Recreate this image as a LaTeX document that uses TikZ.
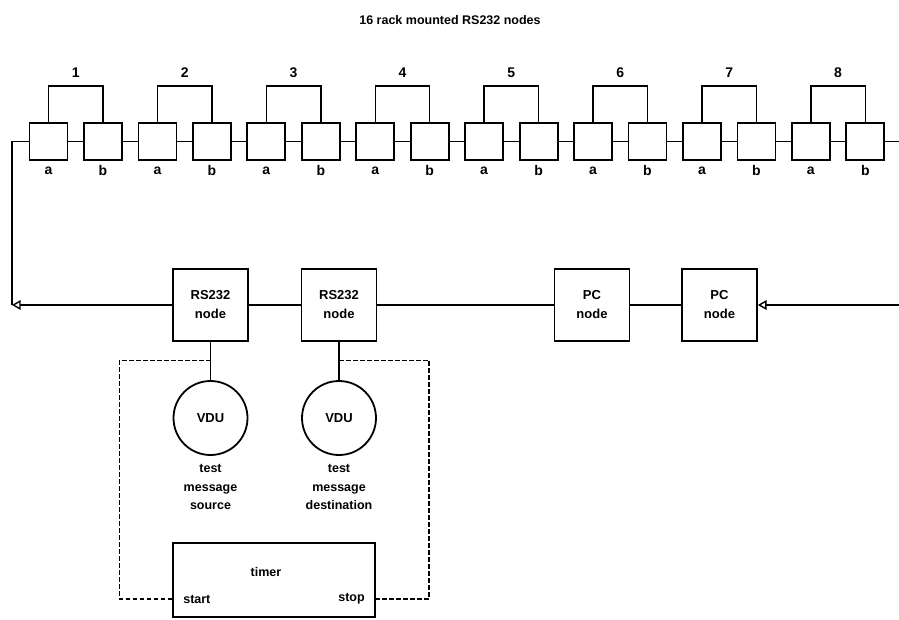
\documentclass[tikz,border=0pt]{standalone}
\usepackage{fontspec}
\setmainfont{Liberation Sans}
\usetikzlibrary{arrows,calc}
\tikzstyle{unit} = [rectangle, minimum width=38pt, minimum height=37pt, inner sep=0pt, draw=black, line width=1.8pt]
\tikzstyle{station} = [rectangle, minimum width=75pt, minimum height=72pt, align=center, draw=black, line width=1.8pt, font=\bfseries\fontsize{13}{19}\selectfont]
\tikzstyle{vdu} = [circle, minimum size=74pt, inner sep=0pt, draw=black, line width=1.8pt, font=\bfseries\fontsize{13}{14}\selectfont]
\tikzstyle{timerbox} = [rectangle, minimum width=202pt, minimum height=74pt, draw=black, line width=1.8pt]
\tikzstyle{note} = [align=center, inner sep=1pt, font=\bfseries\fontsize{12.5}{18.5}\selectfont]
\tikzstyle{big} = [note, font=\bfseries\fontsize{14}{16}\selectfont]
\tikzstyle{wire} = [line width=1.4pt]
\tikzstyle{arrow} = [wire,-open triangle 60]
\tikzstyle{ctrl} = [line width=1.1pt, dash pattern=on 4.5pt off 2.5pt]

\begin{document}
\begin{tikzpicture}[x=1pt, y=-1pt, node distance=128.5pt]
      \useasboundingbox (0,0) rectangle (899,619);
      \node (title) [note] at (450,20) {16 rack mounted RS232 nodes};

      % rack of a/b pairs
      \foreach \i in {1,...,8} {
        \pgfmathsetmacro{\xa}{48.5+108.9*(\i-1)}
        \node (a\i) [unit] at (\xa,141.5) {};
        \node (b\i) [unit] at (\xa+54.5,141.5) {};
        \node (la\i) [big] at (\xa,171) {a};
        \node (lb\i) [big] at (\xa+54.5,170) {b};
        \node (n\i) [big] at (\xa+27.25,73) {\i};
        \draw[wire] (a\i) -- (b\i);
        \draw[wire] (a\i.north) --++(0,-36) -| (b\i.north);
      }
      \foreach \i [evaluate=\i as \j using int(\i+1)] in {1,...,7}
        \draw[wire] (b\i) -- (a\j);

      \node (rs1) [station] at (210.5,305) {RS232\\node};
      \node (rs2) [station, right of = rs1] {RS232\\node};
      \node (pc1) [station] at (592,305) {PC\\node};
      \node (pc2) [station, right of = pc1, node distance=127.5pt] {PC\\node};
      \node (vdu1) [vdu, below of = rs1, node distance=113pt] {VDU};
      \node (vdu2) [vdu, below of = rs2, node distance=113pt] {VDU};
      \node (src) [note, below of = vdu1, node distance=69pt] {test\\message\\source};
      \node (dst) [note, below of = vdu2, node distance=69pt] {test\\message\\destination};
      \node (timer) [timerbox] at (274,580) {};
      \node (clock) [note] at (266,572) {timer};
      \node (start) [note, anchor=west] at ($(timer.west)+(10,19)$) {start};
      \node (stop) [note, anchor=east] at ($(timer.east)+(-10,19)$) {stop};

      \coordinate (loopleft) at (12,305);
      \coordinate (outtop) at (899,141.5);
      \coordinate (inbottom) at (899,305);
      \coordinate (tap1) at ($(rs1.south)!0.475!(vdu1.north)$);
      \coordinate (tap2) at ($(rs2.south)!0.475!(vdu2.north)$);

      \draw[wire] (b8) -- (outtop);
      \draw[arrow] (inbottom) -- (pc2);
      \draw[wire] (pc2) -- (pc1);
      \draw[wire] (pc1) -- (rs2);
      \draw[wire] (rs2) -- (rs1);
      \draw[arrow] (rs1) -- (loopleft);
      \draw[wire] (loopleft) |- (a1);
      \draw[wire] (rs1) -- (vdu1);
      \draw[wire] (rs2) -- (vdu2);

      \draw[ctrl] (tap1) --++(-91,0) |- (timer.west |- start);
      \draw[ctrl] (tap2) --++(90,0) |- (timer.east |- stop);
    \end{tikzpicture}
\end{document}
